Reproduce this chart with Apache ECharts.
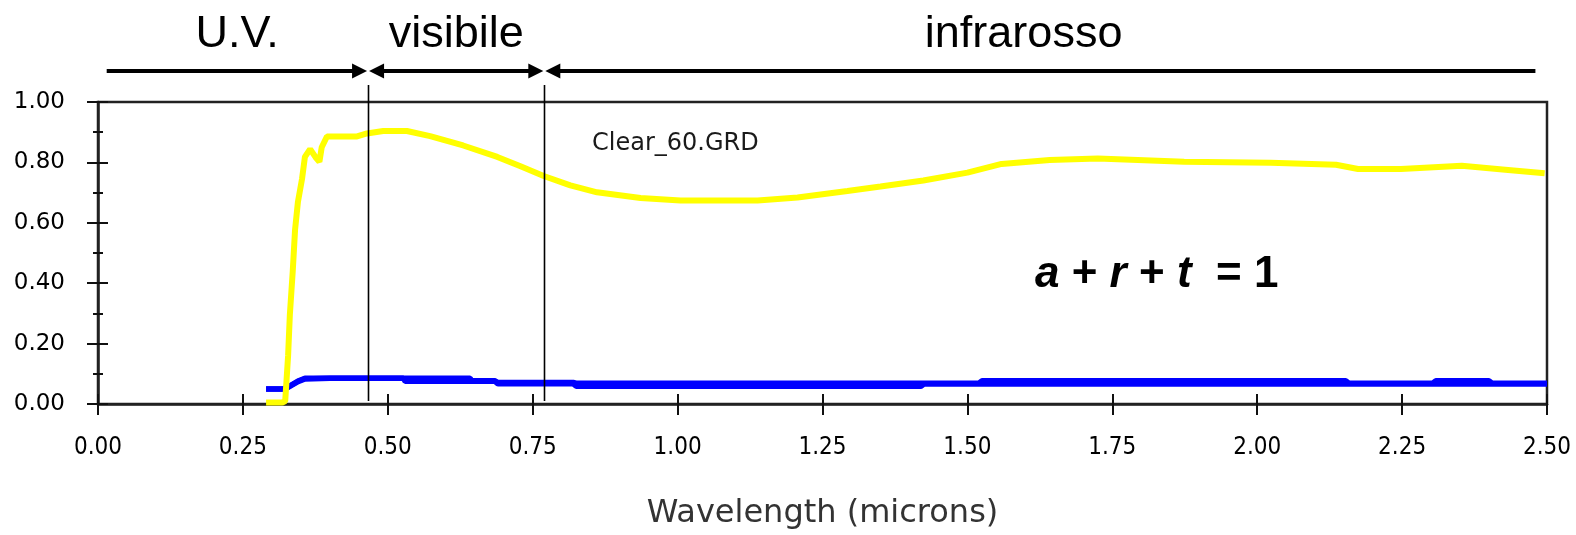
<!DOCTYPE html>
<html>
<head>
<meta charset="utf-8">
<script src="https://cdn.jsdelivr.net/npm/echarts@6/dist/echarts.min.js"></script>
<style>
  html, body { margin: 0; padding: 0; background: #fff; }
  #chart { width: 1576px; height: 535px; }
</style>
</head>
<body>
<div id="chart"></div>
<script>
// Transmittance (t) of the glazing, wavelength in microns
const tWave = [0.29, 0.318, 0.323, 0.328, 0.331, 0.336, 0.340, 0.345, 0.352, 0.357, 0.366, 0.375, 0.382, 0.386, 0.395, 0.447, 0.464, 0.492, 0.533, 0.573, 0.630, 0.689, 0.729, 0.769, 0.815, 0.861, 0.936, 1.005, 1.138, 1.207, 1.293, 1.35, 1.424, 1.500, 1.559, 1.642, 1.725, 1.874, 2.023, 2.136, 2.174, 2.248, 2.353, 2.428, 2.496];
const tVal  = [0.005, 0.005, 0.01, 0.16, 0.295, 0.44, 0.577, 0.67, 0.745, 0.818, 0.844, 0.818, 0.802, 0.85, 0.886, 0.886, 0.896, 0.904, 0.904, 0.887, 0.856, 0.818, 0.787, 0.755, 0.724, 0.701, 0.682, 0.674, 0.674, 0.684, 0.705, 0.72, 0.740, 0.766, 0.795, 0.808, 0.813, 0.802, 0.799, 0.792, 0.778, 0.778, 0.789, 0.776, 0.764];

// Reflectance (r) trace
const rWave = [0.29, 0.32, 0.328, 0.345, 0.357, 0.527, 0.642, 0.645, 0.685, 0.69, 0.82, 0.825, 1.52, 1.525, 2.153, 2.158, 2.303, 2.308, 2.40, 2.405, 2.5];
const rVal  = [0.05, 0.05, 0.057, 0.076, 0.085, 0.085, 0.085, 0.077, 0.077, 0.071, 0.071, 0.069, 0.069, 0.077, 0.077, 0.069, 0.069, 0.077, 0.077, 0.069, 0.069];

// Absorptance (a) trace
const aWave = [0.29, 0.32, 0.328, 0.345, 0.357, 0.40, 0.527, 0.53, 0.685, 0.69, 0.82, 0.825, 1.42, 1.425, 2.5];
const aVal  = [0.05, 0.05, 0.055, 0.074, 0.083, 0.085, 0.085, 0.075, 0.075, 0.067, 0.067, 0.059, 0.059, 0.066, 0.066];

// Spectral bands: edges (microns) and their names
const bandEdges = [0.015, 0.466, 0.77, 2.48];
const bandNames = ['U.V.', 'visibile', 'infrarosso'];
const bandLabelAt = [0.24, 0.618, 1.597];

const xTicks = [0, 0.25, 0.5, 0.75, 1, 1.25, 1.5, 1.75, 2, 2.25, 2.5];
const yTicks = [0, 0.2, 0.4, 0.6, 0.8, 1];

const fileLabel = 'Clear_60.GRD';
const xTitle = 'Wavelength (microns)';

const zip = (xs, ys) => xs.map((x, i) => [x, ys[i]]);

const chart = echarts.init(document.getElementById('chart'), null, { renderer: 'canvas' });

const axisFontY = { fontFamily: 'DejaVu Sans', fontSize: 23, color: '#000' };
const axisFontX = { fontFamily: '"DejaVu Sans Condensed", "Liberation Sans Narrow", "DejaVu Sans"', fontSize: 24, color: '#000' };
const lineCol = '#222';

const xBase = {
  type: 'value', min: xTicks[0], max: xTicks[xTicks.length - 1], interval: 0.25,
  splitLine: { show: false }
};
const yBase = {
  type: 'value', min: yTicks[0], max: yTicks[yTicks.length - 1], interval: 0.2,
  splitLine: { show: false }
};

chart.setOption({
  animation: false,
  backgroundColor: '#fff',
  grid: {
    left: 98, right: 29, top: 102, bottom: 114,
    show: true, borderColor: lineCol, borderWidth: 2.5, backgroundColor: 'transparent'
  },
  xAxis: [
    Object.assign({}, xBase, {
      position: 'bottom',
      axisLine: { show: true, onZero: false, lineStyle: { color: lineCol, width: 2.5 } },
      axisTick: { show: true, length: 11, lineStyle: { color: '#111', width: 2 } },
      axisLabel: Object.assign({ margin: 32, formatter: v => v.toFixed(2) }, axisFontX),
      name: xTitle, nameLocation: 'middle', nameGap: 94,
      nameTextStyle: { fontFamily: 'DejaVu Sans', fontSize: 32, color: '#333' }
    }),
    Object.assign({}, xBase, {
      position: 'bottom',
      axisLine: { show: false, onZero: false },
      axisTick: { show: true, inside: true, length: 10, lineStyle: { color: '#111', width: 2 } },
      axisLabel: { show: false }
    })
  ],
  yAxis: [
    Object.assign({}, yBase, {
      position: 'left',
      axisLine: { show: true, onZero: false, lineStyle: { color: lineCol, width: 2.5 } },
      axisTick: { show: true, length: 11, lineStyle: { color: '#111', width: 2 } },
      minorTick: { show: true, splitNumber: 2, length: 5, lineStyle: { color: '#111', width: 2 } },
      axisLabel: Object.assign({ margin: 33, formatter: v => v.toFixed(2) }, axisFontY)
    }),
    Object.assign({}, yBase, {
      position: 'left',
      axisLine: { show: false, onZero: false },
      axisTick: { show: true, inside: true, length: 10, lineStyle: { color: '#111', width: 2 } },
      minorTick: { show: true, splitNumber: 2, length: 5, lineStyle: { color: '#111', width: 2 } },
      axisLabel: { show: false }
    })
  ],
  series: [
    {
      name: 'a', type: 'line', data: zip(aWave, aVal), showSymbol: false,
      lineStyle: { color: '#0000ff', width: 5.5 }, z: 3
    },
    {
      name: 'r', type: 'line', data: zip(rWave, rVal), showSymbol: false,
      lineStyle: { color: '#0000ff', width: 5.5 }, z: 4
    },
    {
      name: 't', type: 'line', data: zip(tWave, tVal), showSymbol: false,
      lineStyle: { color: '#ffff00', width: 6 }, z: 5
    }
  ]
});

// Band arrows, boundary lines and annotations, positioned from axis values
const px = x => chart.convertToPixel({ xAxisIndex: 0 }, x);
const py = y => chart.convertToPixel({ yAxisIndex: 0 }, y);

const arrowY = 71;
const headLen = 15, headHalf = 7.5;
const graphics = [];

for (let i = 0; i < bandNames.length; i++) {
  const x0 = px(bandEdges[i]);
  const x1 = px(bandEdges[i + 1]);
  const leftHead = i > 0;
  const rightHead = i < bandNames.length - 1;
  const s = leftHead ? x0 + headLen - 1 : x0;
  const e = rightHead ? x1 - headLen + 1 : x1;
  graphics.push({
    type: 'line', shape: { x1: s, y1: arrowY, x2: e, y2: arrowY },
    style: { stroke: '#000', lineWidth: 4 }, silent: true
  });
  if (leftHead) {
    graphics.push({
      type: 'polygon',
      shape: { points: [[x0 + 1, arrowY], [x0 + 1 + headLen, arrowY - headHalf], [x0 + 1 + headLen, arrowY + headHalf]] },
      style: { fill: '#000' }, silent: true
    });
  }
  if (rightHead) {
    graphics.push({
      type: 'polygon',
      shape: { points: [[x1 - 1, arrowY], [x1 - 1 - headLen, arrowY - headHalf], [x1 - 1 - headLen, arrowY + headHalf]] },
      style: { fill: '#000' }, silent: true
    });
  }
  graphics.push({
    type: 'text', x: px(bandLabelAt[i]), y: 35,
    style: {
      text: bandNames[i], fill: '#000',
      font: 'normal 45px "Liberation Sans", Arial, sans-serif',
      align: 'center', verticalAlign: 'middle'
    }, silent: true
  });
}

// Vertical markers at the visible band limits
[bandEdges[1], bandEdges[2]].forEach(edge => {
  const x = Math.round(px(edge)) + 0.5;
  graphics.push({
    type: 'line', shape: { x1: x, y1: 85, x2: x, y2: py(0) - 3 },
    style: { stroke: '#000', lineWidth: 1.6 }, silent: true, z: 10
  });
});

// Data file name
graphics.push({
  type: 'text', x: 592, y: 144,
  style: {
    text: fileLabel, fill: '#1a1a1a',
    font: 'normal 24px "DejaVu Sans", sans-serif',
    align: 'left', verticalAlign: 'middle'
  }, silent: true
});

// Energy balance
graphics.push({
  type: 'text', x: 1035, y: 275,
  style: {
    text: '{i|a} + {i|r} + {i|t}  = 1',
    fill: '#000',
    font: 'bold 44px "Liberation Sans", Arial, sans-serif',
    align: 'left', verticalAlign: 'middle',
    rich: {
      i: { fontStyle: 'italic', fontWeight: 'bold', fontSize: 44, fontFamily: '"Liberation Sans", Arial, sans-serif', fill: '#000' }
    }
  }, silent: true
});

chart.setOption({ graphic: { elements: graphics } });
</script>
</body>
</html>
